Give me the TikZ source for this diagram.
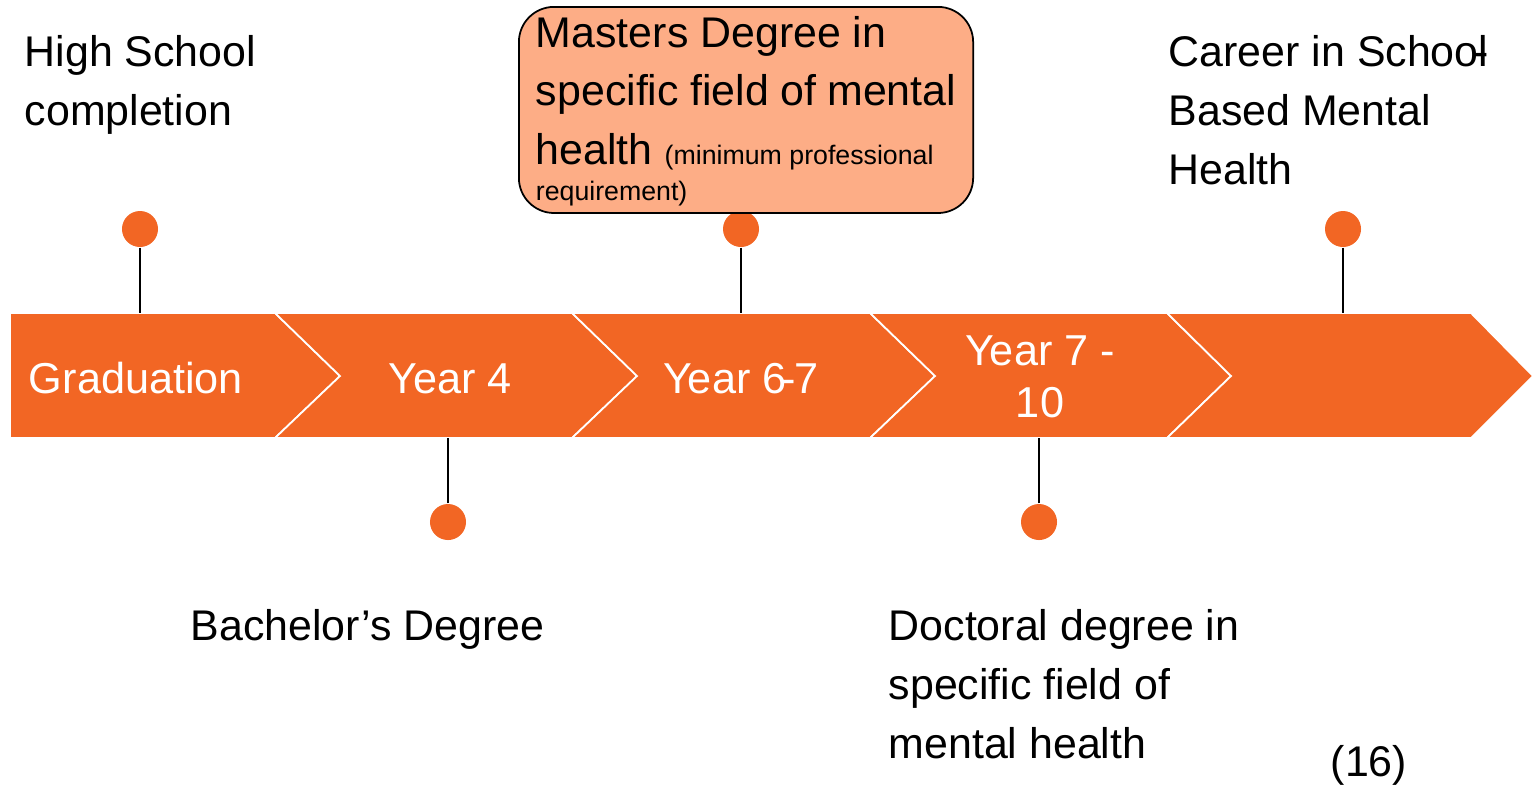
\documentclass[tikz,border=0pt]{standalone}
\usepackage{fontspec}
\setmainfont{Liberation Sans}
\usetikzlibrary{positioning}
\definecolor{bandorange}{RGB}{242,102,36}
\definecolor{boxpeach}{RGB}{253,173,134}

\begin{document}
\begin{tikzpicture}[x=0.01cm,y=-0.01cm,
  lbl/.style={font=\fontsize{12.2}{16.7}\selectfont, inner sep=0pt, align=left},
  steplbl/.style={font=\fontsize{12.3}{14.8}\selectfont, text=white, inner sep=0pt, align=center},
  chev/.style={fill=bandorange, draw=white, line width=0.5pt},
  dot/.style={circle, fill=bandorange, inner sep=0pt, minimum size=0.36cm},
  stem/.style={line width=0.45pt},
  mbox/.style={draw=black, line width=0.5pt, fill=boxpeach, rounded corners=10pt,
    text width=4.2cm, inner xsep=0.17cm, inner ysep=0.5pt, minimum width=4.54cm, minimum height=2.06cm,
    align=flush left, font=\fontsize{12.2}{16.7}\selectfont}]
\useasboundingbox (0,0) rectangle (1540,784);

% chevron band
\filldraw[chev] (10,313) -- (275,313) -- (340,376) -- (275,438) -- (10,438) -- cycle;
\filldraw[chev] (275,313) -- (572,313) -- (637,376) -- (572,438) -- (275,438) -- (340,376) -- cycle;
\filldraw[chev] (572,313) -- (870,313) -- (935,376) -- (870,438) -- (572,438) -- (637,376) -- cycle;
\filldraw[chev] (870,313) -- (1167,313) -- (1231,376) -- (1167,438) -- (870,438) -- (935,376) -- cycle;
\filldraw[chev] (1167,313) -- (1471,313) -- (1533,376) -- (1471,438) -- (1167,438) -- (1231,376) -- cycle;
\coordinate (bandtop) at (0,313);
\coordinate (bandbot) at (0,438);

\node[steplbl, anchor=base] (grad) at (136,393) {Graduation};
\node[steplbl, anchor=base] (yr4) at (450,393) {Year 4};
\node[steplbl, anchor=base] (yr67) at (741,393) {Year 6\kern-0.12em-\kern-0.02em7};
\node[steplbl, anchor=north] (yr710) at (1040,335) {Year 7 -\\10};

% milestones
\node[dot] (hs) at (140,229) {};
\node[dot] (bach) at (448,522) {};
\node[dot] (mast) at (741,229) {};
\node[dot] (doc) at (1039,522) {};
\node[dot] (career) at (1343,229) {};

\draw[stem] (hs) -- (hs |- bandtop);
\draw[stem] (mast) -- (mast |- bandtop);
\draw[stem] (career) -- (career |- bandtop);
\draw[stem] (bach) -- (bach |- bandbot);
\draw[stem] (doc) -- (doc |- bandbot);

\node[lbl, anchor=north west] (hstxt) at (24,35) {High School\\completion};
\node[mbox, anchor=north west] (masttxt) at (518,6) {\rule{0pt}{9.5pt}Masters Degree in\\specific field of mental\\health {\fontsize{7.6}{9}\selectfont (minimum professional}\\[-6.5pt]{\fontsize{7.6}{9}\selectfont requirement)}};
\node[lbl, anchor=north west] (careertxt) at (1168,35) {Career in School\kern-0.33em-\\Based Mental\\Health};
\node[lbl, anchor=base west] (bachtxt) at (190,640) {Bachelor’s Degree};
\node[lbl, anchor=north west] (doctxt) at (888,609) {Doctoral degree in\\specific field of\\mental health};
\node[lbl, anchor=base west] (ref) at (1330,776) {(16)};
\end{tikzpicture}
\end{document}
